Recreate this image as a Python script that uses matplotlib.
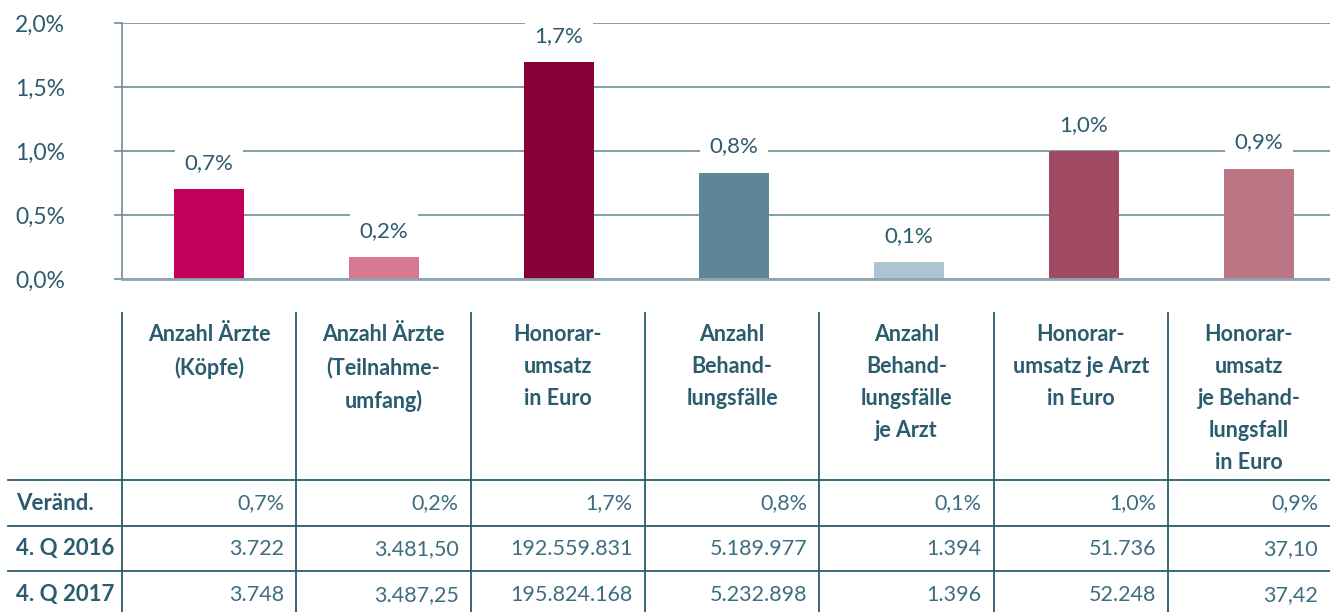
import matplotlib.pyplot as plt
from matplotlib.lines import Line2D

plt.rcParams["font.family"] = ["Lato", "DejaVu Sans"]

kategorien = [
    "Anzahl Ärzte\n(Köpfe)",
    "Anzahl Ärzte\n(Teilnahme-\numfang)",
    "Honorar-\numsatz\nin Euro",
    "Anzahl\nBehand-\nlungsfälle",
    "Anzahl\nBehand-\nlungsfälle\nje Arzt",
    "Honorar-\numsatz je Arzt\nin Euro",
    "Honorar-\numsatz\nje Behand-\nlungsfall\nin Euro",
]
veraenderung = [0.70, 0.17, 1.695, 0.83, 0.13, 1.00, 0.86]
bar_labels = ["0,7%", "0,2%", "1,7%", "0,8%", "0,1%", "1,0%", "0,9%"]
zeilen = ["Veränd.", "4. Q 2016", "4. Q 2017"]
werte_2016 = ["3.722", "3.481,50", "192.559.831", "5.189.977", "1.394", "51.736", "37,10"]
werte_2017 = ["3.748", "3.487,25", "195.824.168", "5.232.898", "1.396", "52.248", "37,42"]
farben = ["#c2005a", "#d87891", "#870038", "#5d8797", "#aec4d0", "#a04a63", "#bc7585"]

dunkel = "#2a5b6e"
text_c = "#3d6d80"
linie = "#6e8c9a"

W, H = 1330, 612
fig = plt.figure(figsize=(W / 100, H / 100), dpi=100)

# bar chart area
ax = fig.add_axes([122 / W, (H - 279) / H, (W - 122) / W, (279 - 23) / H])
x = list(range(len(veraenderung)))
ax.bar(x, veraenderung, width=0.4, color=farben, zorder=3)
ax.set_xlim(-87 / 175, -87 / 175 + (W - 122) / 175)
ax.set_ylim(0, 2.0)
ax.set_yticks([0, 0.5, 1.0, 1.5, 2.0])
ax.set_yticklabels(["0,0%", "0,5%", "1,0%", "1,5%", "2,0%"])
ax.tick_params(axis="y", length=6, width=1.2, color=linie, labelcolor=dunkel,
               labelsize=16.5, pad=71)
for lab in ax.get_yticklabels():
    lab.set_horizontalalignment("left")
ax.set_xticks([])
ax.grid(axis="y", color=linie, lw=1.2, zorder=1)
for s in ["top", "right", "bottom"]:
    ax.spines[s].set_visible(False)
ax.spines["left"].set_color(linie)
ax.spines["left"].set_linewidth(1.2)
ax.axhline(0, color="#8fa5af", lw=2, zorder=4, clip_on=False)

for xi, v, lab in zip(x, veraenderung, bar_labels):
    ax.annotate(lab, (xi, v), xytext=(0, 19), textcoords="offset points",
                ha="center", va="center", fontsize=16, color=dunkel, zorder=5,
                bbox=dict(boxstyle="square,pad=0.45", fc="white", ec="none"))

# table
tab = fig.add_axes([0, 0, 1, 1])
tab.set_xlim(0, W)
tab.set_ylim(H, 0)
tab.axis("off")

grenzen = [122 + 174.3 * i for i in range(8)]
grenzen[-1] = W
for gx in grenzen[:-1]:
    tab.add_line(Line2D([gx, gx], [313, H], color=dunkel, lw=1.3))
for gy in [480, 525.5, 571]:
    tab.add_line(Line2D([8, W], [gy, gy], color=dunkel, lw=1.3))

for i, name in enumerate(kategorien):
    cx = (grenzen[i] + grenzen[i + 1]) / 2
    tab.text(cx, 324, name, ha="center", va="top", fontsize=15.5,
             fontweight="bold", color=dunkel, linespacing=1.65)

row_y = [503, 549, 595]
for ry, z in zip(row_y, zeilen):
    tab.text(16, ry, z, ha="left", va="center", fontsize=16,
             fontweight="bold", color=dunkel)
for werte, ry in zip([bar_labels, werte_2016, werte_2017], row_y):
    for i, w in enumerate(werte):
        tab.text(grenzen[i + 1] - 12, ry, w, ha="right", va="center",
                 fontsize=15.5, color=text_c)

fig.savefig("out.png", dpi=100)
